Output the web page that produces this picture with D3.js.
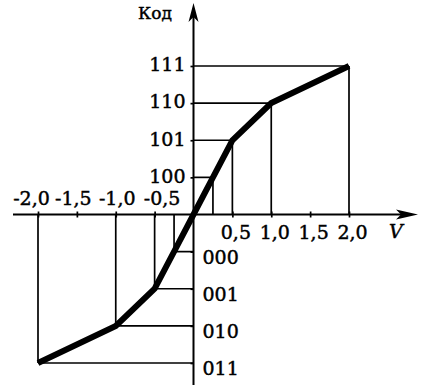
<!DOCTYPE html>
<html>
<head>
<meta charset="utf-8">
<script src="https://cdn.jsdelivr.net/npm/d3@7"></script>
<style>
  html, body { margin: 0; padding: 0; background: #fff; }
  svg { display: block; }
  text { font-family: "DejaVu Serif", "Liberation Serif", serif; fill: #000; }
</style>
</head>
<body>
<svg id="chart" width="424" height="385"></svg>
<script>
// Quantizer characteristic: input voltage V -> 3-bit code (sign + magnitude)
const voltages = [-2.0, -1.0, -0.5, -0.25, 0, 0.25, 0.5, 1.0, 2.0];
const levels   = [-4, -3, -2, -1, 0, 1, 2, 3, 4];
const codes    = ["011", "010", "001", "000", "", "100", "101", "110", "111"];

const xTicksNeg = [-2.0, -1.5, -1.0, -0.5];
const xTicksPos = [0.5, 1.0, 1.5, 2.0];
const fmt = v => v.toFixed(1).replace(".", ",");

const svg = d3.select("#chart");

const x = d3.scaleLinear().domain([-2, 2]).range([38, 349]);
const y = d3.scaleLinear().domain([-4, 4]).range([363, 66]);

const x0 = x(0), y0 = y(0);

const pts = voltages.map((v, i) => ({ v, k: levels[i], code: codes[i] }));
const marks = pts.filter(d => d.k !== 0);

// guide lines: from each point to both axes
const guides = svg.append("g").attr("stroke", "#000").attr("stroke-width", 1.7);
guides.selectAll("line.h").data(marks).join("line")
  .attr("class", "h")
  .attr("x1", d => x(d.v)).attr("x2", x0)
  .attr("y1", d => y(d.k)).attr("y2", d => y(d.k));
guides.selectAll("line.v").data(marks).join("line")
  .attr("class", "v")
  .attr("x1", d => x(d.v)).attr("x2", d => x(d.v))
  .attr("y1", d => y(d.k)).attr("y2", y0);

// horizontal axis with arrow
svg.append("line")
  .attr("x1", 13).attr("x2", 405).attr("y1", y0).attr("y2", y0)
  .attr("stroke", "#000").attr("stroke-width", 2);
svg.append("path")
  .attr("d", `M418,${y0} L396,${y0 - 5} L401,${y0} L396,${y0 + 5} Z`)
  .attr("fill", "#000");

// vertical axis with arrow
svg.append("line")
  .attr("x1", x0).attr("x2", x0).attr("y1", 16).attr("y2", 385)
  .attr("stroke", "#000").attr("stroke-width", 2);
svg.append("path")
  .attr("d", `M${x0},3 L${x0 - 5},22 L${x0},17 L${x0 + 5},22 Z`)
  .attr("fill", "#000");

// label styling shared by all tick texts
const styleText = (sel, size) => sel
  .attr("font-size", size)
  .attr("font-family", "DejaVu Serif")
  .attr("fill", "#000")
  .attr("stroke", "#000")
  .attr("stroke-width", 0.45);

// x tick labels: negative above the axis, positive below
const axNeg = d3.axisTop(x).tickValues(xTicksNeg).tickFormat(fmt).tickSize(3).tickPadding(7);
const axPos = d3.axisBottom(x).tickValues(xTicksPos).tickFormat(fmt).tickSize(3).tickPadding(8);
const negShift = { "-2": -7, "-1.5": -4, "-1": 1, "-0.5": 7 };

[axNeg, axPos].forEach((ax, i) => {
  const g = svg.append("g").attr("transform", `translate(0,${y0})`).call(ax);
  g.select(".domain").remove();
  g.selectAll(".tick line").attr("y1", -3).attr("y2", 3)
    .attr("stroke", "#000").attr("stroke-width", 1.7);
  const t = g.selectAll(".tick text");
  styleText(t, 19);
  t.attr("dx", d => i === 0 ? negShift[String(d)] : 3);
});

// code labels on the vertical axis
const yPos = d3.axisLeft(y).tickValues(levels.filter(k => k > 0))
  .tickFormat(k => codes[levels.indexOf(k)]).tickSize(3).tickPadding(5);
const yNeg = d3.axisRight(y).tickValues(levels.filter(k => k < 0))
  .tickFormat(k => codes[levels.indexOf(k)]).tickSize(0).tickPadding(9);

const gyP = svg.append("g").attr("transform", `translate(${x0},0)`).call(yPos);
gyP.select(".domain").remove();
gyP.selectAll(".tick line").attr("stroke", "#000").attr("stroke-width", 1.7);
styleText(gyP.selectAll(".tick text"), 19).attr("dy", "0.25em");

const gyN = svg.append("g").attr("transform", `translate(${x0},0)`).call(yNeg);
gyN.select(".domain").remove();
gyN.selectAll(".tick line").attr("x2", -3).attr("stroke", "#000").attr("stroke-width", 1.7);
styleText(gyN.selectAll(".tick text"), 19).attr("dy", "0.62em");

// transfer characteristic
const line = d3.line().x(d => x(d.v)).y(d => y(d.k));
svg.append("path")
  .datum(pts)
  .attr("d", line)
  .attr("fill", "none")
  .attr("stroke", "#000")
  .attr("stroke-width", 6)
  .attr("stroke-linejoin", "miter");

// axis titles
styleText(svg.append("text").attr("x", 138).attr("y", 19), 17).text("Код");
styleText(svg.append("text").attr("x", 389).attr("y", 238), 19)
  .attr("font-style", "italic").text("V");
</script>
</body>
</html>
